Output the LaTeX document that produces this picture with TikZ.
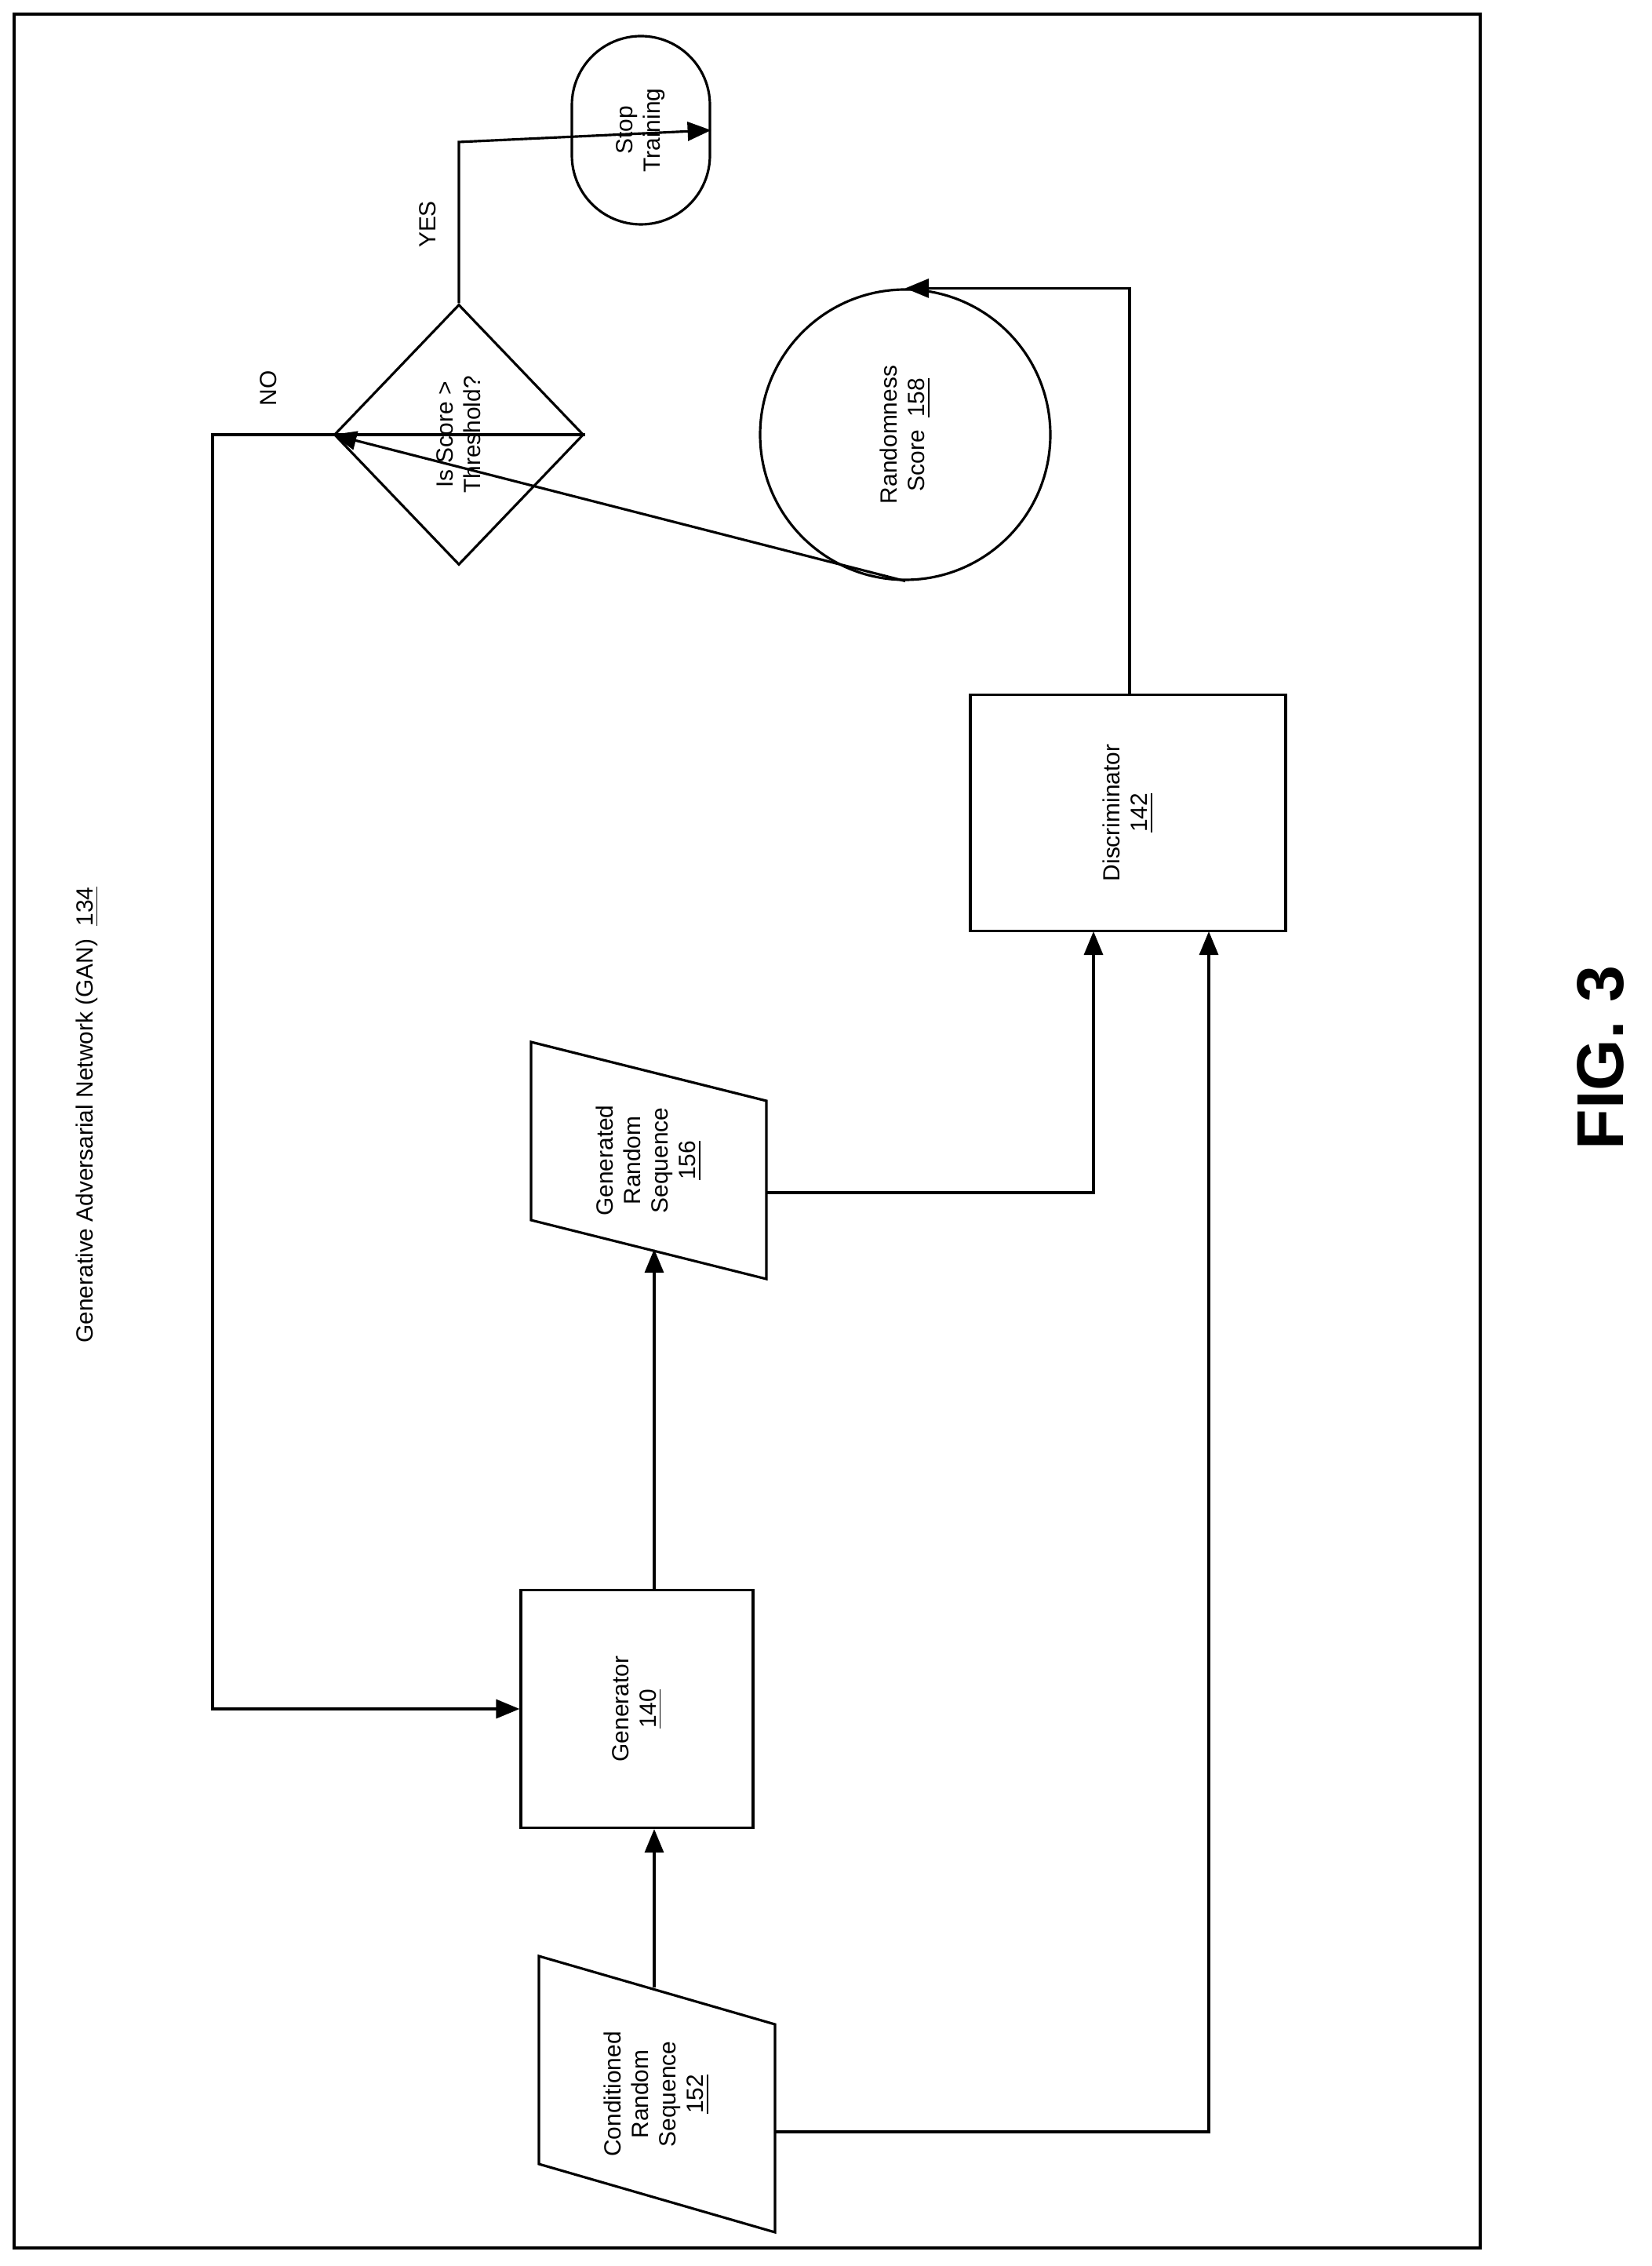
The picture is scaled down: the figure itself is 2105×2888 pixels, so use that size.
\documentclass[tikz,border=0pt]{standalone}
\usepackage{fontspec}
\setmainfont{Liberation Sans}
\usetikzlibrary{shapes.geometric,arrows.meta}
\tikzset{
  txt/.style={rotate=90, align=center, font=\fontsize{8.5}{10}\selectfont},
  box/.style={txt, draw, line width=0.9pt, inner sep=0pt},
  flow/.style={line width=0.9pt, -{Triangle[length=3mm,width=2.4mm]}},
  line/.style={line width=0.9pt}
}
\begin{document}
\begin{tikzpicture}[x=0.1mm, y=-0.1mm]
  \useasboundingbox (0,0) rectangle (2105,2888);
  \draw[line] (18,18) rectangle (1887,2865);
  \node[txt] (title) at (111,1421) {Generative Adversarial Network (GAN)\ \ \underline{134}};

  % input sequences
  \draw[line] (687,2493) -- (988,2580) -- (988,2845) -- (687,2758) -- cycle;
  \node[txt] (cond) at (837,2669) {Conditioned\\Random\\Sequence\\\underline{152}};
  \coordinate (condtop) at (834,2533);
  \coordinate (condright) at (988,2717);
  \draw[line] (677,1328) -- (977,1403) -- (977,1630) -- (677,1555) -- cycle;
  \node[txt] (gen) at (827,1479) {Generated\\Random\\Sequence\\\underline{156}};
  \coordinate (genbot) at (834,1592);
  \coordinate (genright) at (977,1520);

  \node[box, minimum width=30.3mm, minimum height=29.6mm] (generator) at (812,2178) {Generator\\\underline{140}};
  \node[box, minimum width=30.1mm, minimum height=40.2mm] (disc) at (1438,1036) {Discriminator\\\underline{142}};
  \node[box, circle, minimum size=37mm] (score) at (1154,554) {Randomness\\Score\ \ \underline{158}};
  \node[box, diamond, minimum width=33.2mm, minimum height=31.8mm] (test) at (585,554) {Is Score >\\Threshold?};
  \node[box, rounded corners=8.8mm, minimum width=24mm, minimum height=17.6mm] (stop) at (817,166) {Stop\\Training};

  \draw[flow] (condtop) -- (condtop |- generator.west);
  \draw[flow] (generator.east -| genbot) -- (genbot);
  \draw[flow] (genright) -| (1394,1187);
  \draw[flow] (condright) -| (1541,1187);
  \draw[flow] (disc.east -| 1440,0) |- (score.east);
  \draw[flow] (score.west) -- (test.north);
  \draw[flow] (test.south) -- (271,554) |- (generator.north);
  \draw[flow] (test.east) -- (585,181) -- (stop.south);
  \node[txt] (no) at (342,495) {NO};
  \node[txt] (yes) at (545,286) {YES};

  \node[rotate=90, font=\fontsize{24}{28}\selectfont\bfseries] (fig) at (2040,1348) {FIG. 3};
\end{tikzpicture}
\end{document}
